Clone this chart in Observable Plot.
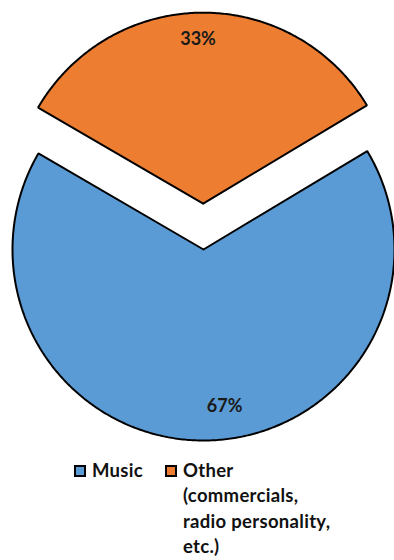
<!DOCTYPE html>
<html>
<head>
<meta charset="utf-8">
<script src="https://cdn.jsdelivr.net/npm/d3@7"></script>
<script src="https://cdn.jsdelivr.net/npm/@observablehq/plot@0.6"></script>
<style>
  html, body { margin: 0; padding: 0; background: #fff; }
  #wrap { position: relative; width: 394px; height: 560px; font-family: Lato, "Open Sans", sans-serif; }
  #legend { position: absolute; top: 458px; left: 74px; display: flex; font-weight: 700; font-size: 18.5px; letter-spacing: 0.3px; line-height: 25.4px; color: #111; }
  .item { display: flex; align-items: flex-start; }
  .sw { width: 8px; height: 8px; border: 2px solid #000; margin-top: 7px; margin-right: 6px; flex: none; }
</style>
</head>
<body>
<div id="wrap"><div id="chart"></div><div id="legend"></div></div>
<script>
// ---- data ----
const categories = ["Music", "Other (commercials, radio personality, etc.)"];
const values = [67, 33];
const percentLabels = ["67%", "33%"];
const colors = ["#5B9BD5", "#ED7D31"];
const exploded = [0, 1];
const legendLines = [["Music"], ["Other", "(commercials,", "radio personality,", "etc.)"]];

// ---- layout (pixels) ----
const W = 394, H = 456;
const cx = 203, cy = 249, R = 191;
const explodeDist = 0.24;        // fraction of radius
const firstSliceAngle = 59 * Math.PI / 180;
const labelRadius = [0.82, 0.86];

const pie = d3.pie().sort(null).startAngle(firstSliceAngle).endAngle(firstSliceAngle + 2 * Math.PI);
const arcs = pie(values);

const polys = [];
const labels = [];
arcs.forEach((a, i) => {
  const mid = (a.startAngle + a.endAngle) / 2;
  const ox = exploded[i] * explodeDist * Math.sin(mid);
  const oy = exploded[i] * explodeDist * Math.cos(mid);
  const pts = [{x: ox, y: oy}];
  const n = Math.max(2, Math.ceil((a.endAngle - a.startAngle) / 0.01));
  for (let k = 0; k <= n; k++) {
    const t = a.startAngle + (a.endAngle - a.startAngle) * k / n;
    pts.push({x: ox + Math.sin(t), y: oy + Math.cos(t)});
  }
  pts.push({x: ox, y: oy});
  pts.forEach(p => polys.push({...p, cat: categories[i]}));
  labels.push({x: ox + labelRadius[i] * Math.sin(mid), y: oy + labelRadius[i] * Math.cos(mid), text: percentLabels[i], cat: categories[i]});
});

const chart = Plot.plot({
  width: W, height: H,
  margin: 0,
  x: {domain: [-cx / R, (W - cx) / R], axis: null},
  y: {domain: [-(H - cy) / R, cy / R], axis: null},
  color: {domain: categories, range: colors},
  marks: [
    Plot.line(polys, {x: "x", y: "y", z: "cat", fill: "cat", stroke: "#000", strokeWidth: 2, strokeLinejoin: "miter", curve: "linear"}),
    Plot.text(labels.filter(d => d.cat === categories[0]), {x: "x", y: "y", text: "text", dx: 20, fontSize: 18, fontWeight: 700, fill: "#1a1a1a", fontFamily: "Lato"}),
    Plot.text(labels.filter(d => d.cat === categories[1]), {x: "x", y: "y", text: "text", dx: -4, fontSize: 18, fontWeight: 700, fill: "#1a1a1a", fontFamily: "Lato"})
  ]
});
document.getElementById("chart").appendChild(chart);

// ---- legend ----
const legend = d3.select("#legend");
categories.forEach((c, i) => {
  const item = legend.append("div").attr("class", "item").style("margin-right", i === 0 ? "22px" : "0");
  item.append("div").attr("class", "sw").style("background", colors[i]);
  const t = item.append("div");
  legendLines[i].forEach(l => t.append("div").text(l));
});
</script>
</body>
</html>
